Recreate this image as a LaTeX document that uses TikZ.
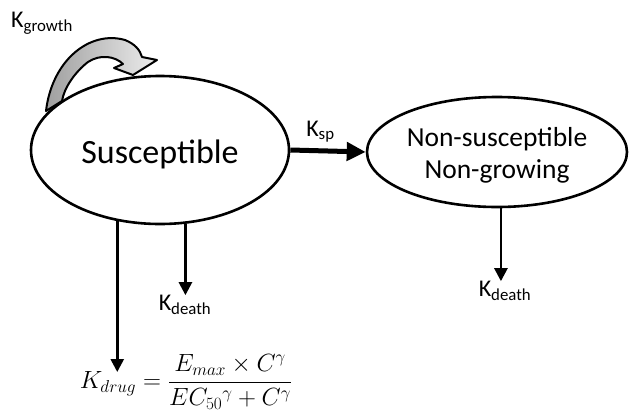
\documentclass[tikz,border=0pt]{standalone}
\usepackage{amsmath}
\usepackage{fontspec}
\setmainfont{Carlito}
\usepackage{tikz}
\usetikzlibrary{shapes.geometric,arrows.meta,positioning,calc}

\newcommand{\rate}[1]{K\textsubscript{#1}}

\begin{document}
\begin{tikzpicture}[x=1pt, y=-1pt,
    state/.style={ellipse, draw, line width=2.6pt, fill=white, inner sep=0pt, align=center},
    arr/.style={-{Triangle[length=13pt, width=13pt]}, line width=2.6pt},
    lbl/.style={font=\fontsize{24}{28}\selectfont, inner sep=0pt},
  ]
  \useasboundingbox (0,0) rectangle (629,413);

  % Susceptible
  \node[state, minimum width=258, minimum height=148,
        font=\fontsize{34}{40}\selectfont] (sus) at (160,150)
    {\raisebox{-4pt}[\height][\depth]{Susceptible}};

  % Non-susceptible, non-growing
  \node[state, minimum width=260, minimum height=110,
        font=\fontsize{27.5}{32}\selectfont] (nsng) at (497,152)
    {\raisebox{-4pt}[\height][\depth]{\begin{tabular}{@{}c@{}}Non-susceptible\\Non-growing\end{tabular}}};

  % Growth loop
  \shade[left color=gray!75, right color=gray!15, draw=black, line width=2pt, line join=round]
    (46,111) .. controls (52,60) and (90,30) .. (125,40)
    .. controls (135,44) and (140,50) .. (142,57)
    -- (157,60) -- (133,75) -- (114,68) -- (123,64)
    .. controls (115,56) and (100,54) .. (88,62)
    .. controls (75,72) and (64,88) .. (62,101) -- cycle;
  \node[lbl] (kgrowth) at (42,23) {\rate{growth}};

  % Transfer
  \draw[-{Triangle[length=19pt, width=18pt]}, line width=5pt] (sus.east) -- (nsng.west);
  \node[lbl, above=8pt of $(sus.east)!0.4!(nsng.west)$] (ksp) {\rate{sp}};

  % Deaths
  \node[lbl] (kd1) at (185,305) {\rate{death}};
  \draw[arr] (sus.-71) -- (sus.-71 |- kd1.north);
  \node[lbl] (kd2) at (505,291) {\rate{death}};
  \draw[arr] (nsng.-86) -- (nsng.-86 |- kd2.north);

  % Drug kill
  \node[font=\fontsize{25}{30}\selectfont, inner sep=0pt] (kdrug) at (186,382)
    {$K_{drug} = \dfrac{E_{max}\times C^{\gamma}}{EC_{50}{}^{\gamma}+C^{\gamma}}$};
  \coordinate (drugend) at (118,372);
  \draw[arr] (sus.-121) -- (sus.-121 |- drugend);

\end{tikzpicture}
\end{document}
